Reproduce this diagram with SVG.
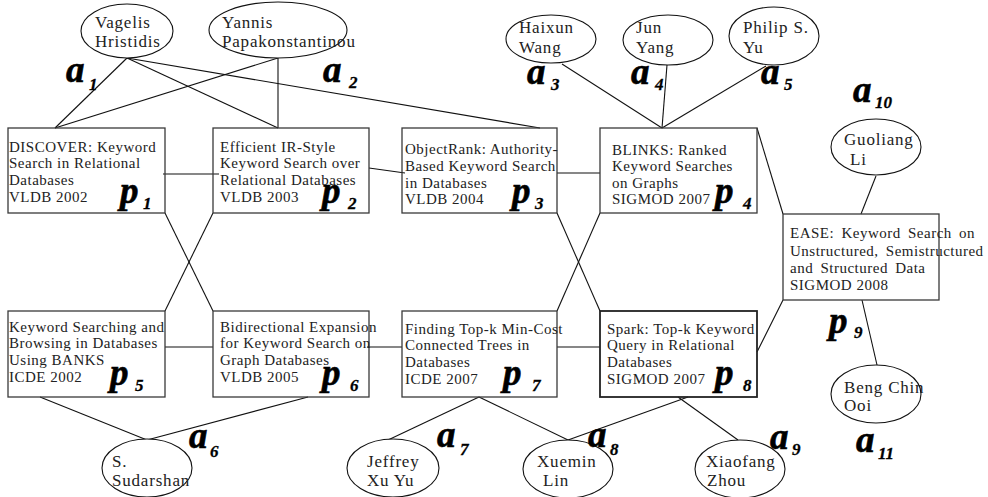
<svg xmlns="http://www.w3.org/2000/svg" width="988" height="497" viewBox="0 0 988 497">
<style>
.box{fill:none;stroke:#3a3a3a;stroke-width:1.3}
.box8{fill:none;stroke:#222;stroke-width:1.8}
.au{fill:#fff;stroke:#111;stroke-width:1.1}
.ln{stroke:#111;stroke-width:1.1;fill:none}
.t{font-family:"Liberation Serif","Times New Roman",serif;font-size:15px;letter-spacing:0.5px;fill:#222}
.n{font-family:"Liberation Serif","Times New Roman",serif;font-size:17px;letter-spacing:0.8px;fill:#222}
.lb{font-family:"Liberation Serif","Times New Roman",serif;font-weight:bold;font-style:italic;font-size:37px;fill:#000;stroke:#000;stroke-width:0.6}
.sb{font-family:"Liberation Serif","Times New Roman",serif;font-weight:bold;font-style:italic;font-size:17px;fill:#000;stroke:#000;stroke-width:0.3}
</style>
<g id="connectors" class="ln">
<line x1="127" y1="58" x2="55" y2="128"/>
<line x1="127" y1="58" x2="278" y2="128"/>
<line x1="127" y1="58" x2="540" y2="128"/>
<line x1="278" y1="58" x2="55" y2="128"/>
<line x1="278" y1="58" x2="278" y2="128"/>
<line x1="562" y1="64" x2="662" y2="128"/>
<line x1="667" y1="65" x2="662" y2="128"/>
<line x1="766" y1="66" x2="662" y2="128"/>
<line x1="163" y1="174" x2="219" y2="174"/>
<line x1="369" y1="168" x2="405" y2="173"/>
<line x1="557" y1="173" x2="600" y2="173"/>
<line x1="757" y1="128" x2="783" y2="214"/>
<line x1="876" y1="176" x2="861" y2="214"/>
<line x1="783" y1="300" x2="757" y2="352"/>
<line x1="862" y1="300" x2="877" y2="365"/>
<line x1="165" y1="213" x2="213" y2="311"/>
<line x1="213" y1="213" x2="165" y2="311"/>
<line x1="557" y1="213" x2="600" y2="311"/>
<line x1="600" y1="213" x2="557" y2="311"/>
<line x1="165" y1="347" x2="213" y2="347"/>
<line x1="367" y1="347" x2="402" y2="347"/>
<line x1="557" y1="347" x2="600" y2="347"/>
<line x1="40" y1="397" x2="147" y2="440"/>
<line x1="308" y1="397" x2="147" y2="440"/>
<line x1="479" y1="397" x2="388" y2="440"/>
<line x1="479" y1="397" x2="568" y2="440"/>
<line x1="688" y1="397" x2="568" y2="440"/>
<line x1="678" y1="397" x2="738" y2="440"/>
</g>
<g id="a1"><ellipse class="au" cx="127" cy="31" rx="46" ry="27"/><text class="n"><tspan x="95" y="28">Vagelis</tspan><tspan x="95" y="47">Hristidis</tspan></text><text class="lb" x="66" y="82">a</text><text class="sb" x="89" y="90">1</text></g>
<g id="a2"><ellipse class="au" cx="278" cy="30" rx="69" ry="28"/><text class="n"><tspan x="222" y="28">Yannis</tspan><tspan x="222" y="47">Papakonstantinou</tspan></text><text class="lb" x="323" y="82">a</text><text class="sb" x="349" y="88">2</text></g>
<g id="a3"><ellipse class="au" cx="551" cy="39" rx="45" ry="24"/><text class="n"><tspan x="519" y="33">Haixun</tspan><tspan x="519" y="53">Wang</tspan></text><text class="lb" x="527" y="84">a</text><text class="sb" x="551" y="90">3</text></g>
<g id="a4"><ellipse class="au" cx="668" cy="40" rx="45" ry="25"/><text class="n"><tspan x="636" y="33">Jun</tspan><tspan x="636" y="53">Yang</tspan></text><text class="lb" x="631" y="84">a</text><text class="sb" x="655" y="90">4</text></g>
<g id="a5"><ellipse class="au" cx="774" cy="36" rx="45" ry="29"/><text class="n"><tspan x="743" y="33">Philip S.</tspan><tspan x="743" y="53">Yu</tspan></text><text class="lb" x="761" y="84">a</text><text class="sb" x="784" y="90">5</text></g>
<g id="a10"><ellipse class="au" cx="876" cy="147" rx="45" ry="28"/><text class="n"><tspan x="844" y="145">Guoliang</tspan><tspan x="850" y="165">Li</tspan></text><text class="lb" x="853" y="102">a</text><text class="sb" x="875" y="108">10</text></g>
<g id="a11"><ellipse class="au" cx="876" cy="394" rx="45" ry="29"/><text class="n"><tspan x="844" y="393">Beng  Chin</tspan><tspan x="844" y="411">Ooi</tspan></text><text class="lb" x="856" y="452">a</text><text class="sb" x="878" y="459">11</text></g>
<g id="a6"><ellipse class="au" cx="147" cy="468" rx="45" ry="29"/><text class="n"><tspan x="112" y="467">S.</tspan><tspan x="112" y="486">Sudarshan</tspan></text><text class="lb" x="189" y="448">a</text><text class="sb" x="210" y="457">6</text></g>
<g id="a7"><ellipse class="au" cx="393" cy="468" rx="46" ry="29"/><text class="n"><tspan x="367" y="467">Jeffrey</tspan><tspan x="367" y="486">Xu Yu</tspan></text><text class="lb" x="437" y="447">a</text><text class="sb" x="460" y="455">7</text></g>
<g id="a8"><ellipse class="au" cx="568" cy="469" rx="45" ry="29"/><text class="n"><tspan x="537" y="467">Xuemin</tspan><tspan x="543" y="486">Lin</tspan></text><text class="lb" x="588" y="447">a</text><text class="sb" x="610" y="455">8</text></g>
<g id="a9"><ellipse class="au" cx="740" cy="469" rx="45" ry="29"/><text class="n"><tspan x="706" y="467">Xiaofang</tspan><tspan x="707" y="486">Zhou</tspan></text><text class="lb" x="770" y="449">a</text><text class="sb" x="792" y="455">9</text></g>
<g id="p1"><rect class="box" x="8" y="128" width="157" height="85"/><text class="t"><tspan x="9" y="152">DISCOVER: Keyword</tspan><tspan x="9" y="168">Search in Relational</tspan><tspan x="9" y="185">Databases</tspan><tspan x="9" y="202">VLDB 2002</tspan></text><text class="lb" x="120" y="203">p</text><text class="sb" x="143" y="209">1</text></g>
<g id="p2"><rect class="box" x="213" y="128" width="156" height="85"/><text class="t"><tspan x="220" y="152">Efficient IR-Style</tspan><tspan x="220" y="168">Keyword Search over</tspan><tspan x="220" y="185">Relational Databases</tspan><tspan x="220" y="202">VLDB 2003</tspan></text><text class="lb" x="322" y="203">p</text><text class="sb" x="348" y="209">2</text></g>
<g id="p3"><rect class="box" x="402" y="128" width="155" height="85"/><text class="t"><tspan x="405" y="154">ObjectRank: Authority-</tspan><tspan x="405" y="171">Based Keyword Search</tspan><tspan x="405" y="188">in Databases</tspan><tspan x="405" y="204">VLDB 2004</tspan></text><text class="lb" x="512" y="203">p</text><text class="sb" x="535" y="209">3</text></g>
<g id="p4"><rect class="box" x="600" y="128" width="157" height="85"/><text class="t"><tspan x="612" y="155">BLINKS: Ranked</tspan><tspan x="612" y="171">Keyword Searches</tspan><tspan x="612" y="188">on Graphs</tspan><tspan x="612" y="204">SIGMOD 2007</tspan></text><text class="lb" x="715" y="203">p</text><text class="sb" x="743" y="209">4</text></g>
<g id="p5"><rect class="box" x="8" y="311" width="157" height="86"/><text class="t"><tspan x="9" y="332">Keyword Searching and</tspan><tspan x="9" y="348">Browsing in Databases</tspan><tspan x="9" y="365">Using BANKS</tspan><tspan x="9" y="382">ICDE  2002</tspan></text><text class="lb" x="110" y="385">p</text><text class="sb" x="135" y="391">5</text></g>
<g id="p6"><rect class="box" x="213" y="311" width="156" height="86"/><text class="t"><tspan x="220" y="332">Bidirectional Expansion</tspan><tspan x="220" y="348">for Keyword Search on</tspan><tspan x="220" y="365">Graph Databases</tspan><tspan x="220" y="382">VLDB 2005</tspan></text><text class="lb" x="322" y="385">p</text><text class="sb" x="350" y="391">6</text></g>
<g id="p7"><rect class="box" x="402" y="311" width="155" height="86"/><text class="t"><tspan x="405" y="334">Finding Top-k Min-Cost</tspan><tspan x="405" y="350">Connected Trees in</tspan><tspan x="405" y="367">Databases</tspan><tspan x="405" y="384">ICDE 2007</tspan></text><text class="lb" x="503" y="385">p</text><text class="sb" x="532" y="391">7</text></g>
<g id="p8"><rect class="box8" x="600" y="311" width="157" height="86"/><text class="t"><tspan x="607" y="334">Spark: Top-k Keyword</tspan><tspan x="607" y="350">Query in Relational</tspan><tspan x="607" y="367">Databases</tspan><tspan x="607" y="384">SIGMOD 2007</tspan></text><text class="lb" x="715" y="385">p</text><text class="sb" x="743" y="391">8</text></g>
<g id="p9"><rect class="box" x="783" y="214" width="156" height="86"/><text class="t" style="word-spacing:3px"><tspan x="790" y="238">EASE: Keyword Search on</tspan><tspan x="790" y="256">Unstructured, Semistructured</tspan><tspan x="790" y="273">and Structured Data</tspan><tspan x="790" y="290" style="word-spacing:0">SIGMOD 2008</tspan></text><text class="lb" x="829" y="333">p</text><text class="sb" x="854" y="338">9</text></g>
</svg>
